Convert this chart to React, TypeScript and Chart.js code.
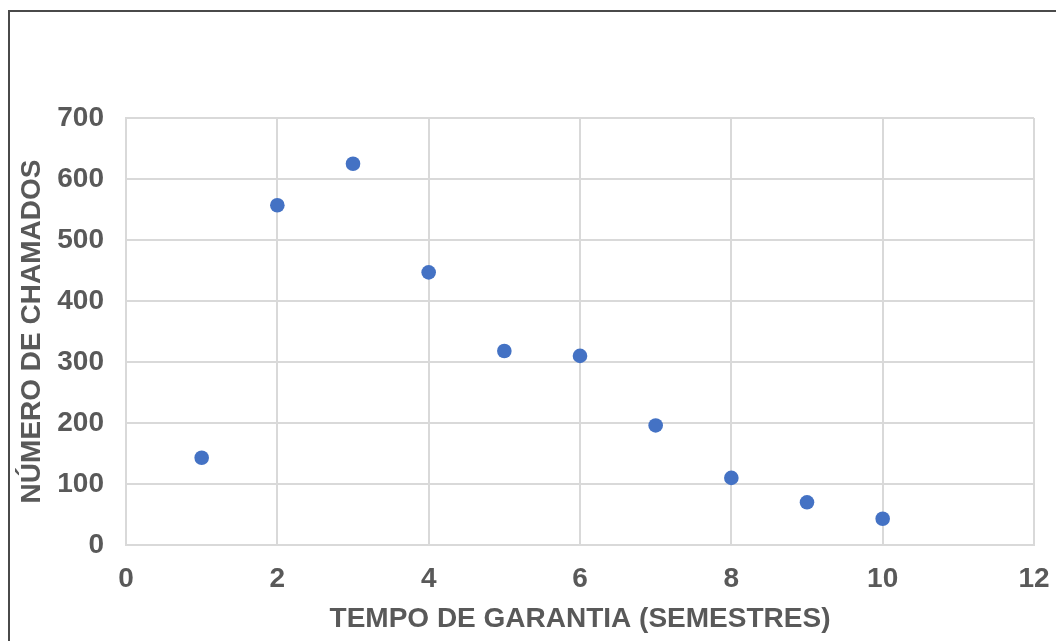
import React, { useEffect, useRef } from "react";
import { Chart, registerables } from "chart.js";

Chart.register(...registerables);

const semesters = [1, 2, 3, 4, 5, 6, 7, 8, 9, 10];
const calls = [143, 557, 625, 447, 318, 310, 196, 110, 70, 43];
const xTitle = "TEMPO DE GARANTIA (SEMESTRES)";
const yTitle = "NÚMERO DE CHAMADOS";

const FONT = "'Liberation Sans', Arial, sans-serif";
const TEXT = "#595959";
const GRID = "#d9d9d9";

export default function App() {
  const ref = useRef<HTMLCanvasElement | null>(null);

  useEffect(() => {
    if (!ref.current) return;
    const chart = new Chart(ref.current, {
      type: "scatter",
      data: {
        datasets: [
          {
            data: semesters.map((x, i) => ({ x, y: calls[i] })),
            backgroundColor: "#4472C4",
            borderColor: "#4472C4",
            borderWidth: 0,
            pointRadius: 7.3,
            pointHoverRadius: 7.3,
          },
        ],
      },
      options: {
        animation: false,
        responsive: false,
        devicePixelRatio: 1,
        layout: { padding: { left: 11, top: 118, right: 22, bottom: 0 } },
        plugins: { legend: { display: false }, tooltip: { enabled: false } },
        scales: {
          x: {
            type: "linear",
            min: 0,
            max: 12,
            afterFit: (s: any) => {
              s.height = 96;
              s.paddingRight = 0;
              s.paddingLeft = 0;
            },
            ticks: {
              stepSize: 2,
              padding: 17,
              color: TEXT,
              font: { family: FONT, size: 28, weight: "bold", lineHeight: 1.2 },
            },
            grid: { color: GRID, lineWidth: 2, drawTicks: false },
            border: { color: GRID, width: 2 },
            title: {
              display: true,
              text: xTitle,
              color: TEXT,
              padding: { top: 0, bottom: 5 },
              font: { family: FONT, size: 28, weight: "bold", lineHeight: 1.2 },
            },
          },
          y: {
            type: "linear",
            min: 0,
            max: 700,
            afterFit: (s: any) => {
              s.width = 115;
              s.paddingTop = 0;
              s.paddingBottom = 0;
            },
            ticks: {
              stepSize: 100,
              padding: 22,
              color: TEXT,
              font: { family: FONT, size: 28, weight: "bold", lineHeight: 1.2 },
            },
            grid: { color: GRID, lineWidth: 2, drawTicks: false },
            border: { color: GRID, width: 2 },
            title: {
              display: true,
              text: yTitle,
              color: TEXT,
              padding: { top: 4, bottom: 0 },
              font: { family: FONT, size: 28, weight: "bold", lineHeight: 1.2 },
            },
          },
        },
      },
    });
    return () => chart.destroy();
  }, []);

  return (
    <>
      <div
        style={{
          position: "fixed",
          left: 8,
          top: 10,
          width: 1200,
          height: 800,
          border: "2px solid #4a4a4a",
          boxSizing: "border-box",
          background: "#fff",
        }}
      />
      <div style={{ position: "fixed", left: 0, top: 0, width: 1056, height: 641 }}>
        <canvas ref={ref} width={1056} height={641} style={{ width: 1056, height: 641, display: "block" }} />
      </div>
    </>
  );
}
